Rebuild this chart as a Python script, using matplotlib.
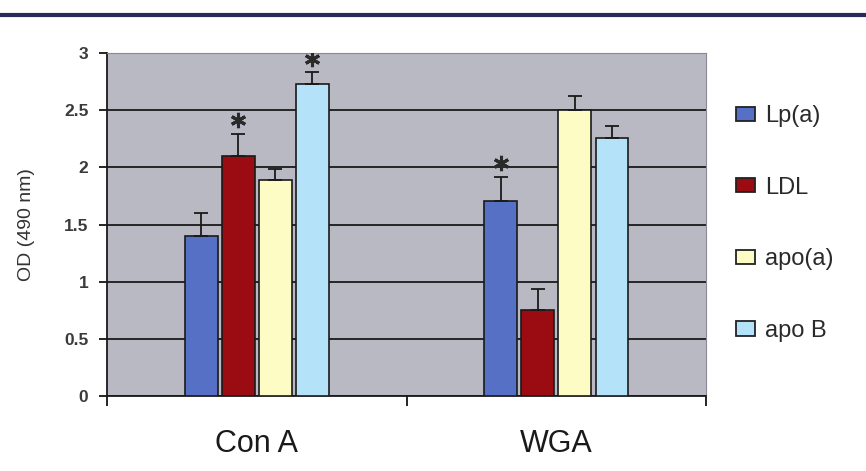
import matplotlib.pyplot as plt
import numpy as np
from matplotlib.lines import Line2D
from matplotlib.patches import Patch

plt.rcParams['font.family'] = ['Liberation Sans', 'DejaVu Sans']

# lectin binding, OD at 490 nm
groups = ['Con A', 'WGA']
series = ['Lp(a)', 'LDL', 'apo(a)', 'apo B']
values = {
    'Lp(a)': [1.40, 1.71],
    'LDL': [2.10, 0.75],
    'apo(a)': [1.89, 2.50],
    'apo B': [2.73, 2.26],
}
errors = {
    'Lp(a)': [0.20, 0.21],
    'LDL': [0.19, 0.19],
    'apo(a)': [0.10, 0.12],
    'apo B': [0.10, 0.10],
}
# significant differences marked with *
stars = [('LDL', 0), ('apo B', 0), ('Lp(a)', 1)]
yticks = [0, 0.5, 1, 1.5, 2, 2.5, 3]
ytick_labels = ['0', '0.5', '1', '1.5', '2', '2.5', '3']

colors = {
    'Lp(a)': '#5570c4',
    'LDL': '#9a0c12',
    'apo(a)': '#fdfcc4',
    'apo B': '#b4e2f8',
}

fig = plt.figure(figsize=(8.66, 4.71), dpi=100)
ax = fig.add_axes([0.1236, 0.1592, 0.6917, 0.7282])
ax.set_facecolor('#b9b9c4')

x = np.arange(len(groups))
step = 0.124
width = 0.11
for i, name in enumerate(series):
    pos = x + (i - 1.5) * step
    ax.bar(pos, values[name], width, color=colors[name],
           edgecolor='#1a1a1a', linewidth=1.2, zorder=3)
    ax.errorbar(pos, values[name], yerr=[np.zeros(len(groups)), errors[name]],
                fmt='none', ecolor='#1a1a1a', elinewidth=1.3, capsize=5,
                capthick=1.3, zorder=4)

for name, g in stars:
    i = series.index(name)
    top = values[name][g] + errors[name][g]
    ax.plot(x[g] + (i - 1.5) * step, top + 0.12, marker=(6, 2, 0),
            markersize=11, markeredgewidth=2.2, color='#2a2a2a', zorder=5)

ax.set_xlim(-0.5, 1.5)
ax.set_ylim(0, 3)
ax.yaxis.grid(True, color='#1a1a1a', linewidth=1.3, zorder=1)
ax.set_axisbelow(True)

ax.set_yticks(yticks)
ax.set_yticklabels(ytick_labels, fontsize=12.5, fontweight='bold',
                   color='#3a3a3a')
ax.tick_params(axis='y', length=6, width=1.2, direction='out', pad=7.5)

ax.set_xticks([-0.5, 0.5, 1.5])
ax.set_xticklabels([])
ax.tick_params(axis='x', length=7, width=1.2, direction='out')
for g, label in zip(x, groups):
    ax.text(g, -0.49, label, ha='center', va='baseline', fontsize=22,
            color='#1a1a1a')

ax.set_ylabel('OD (490 nm)', fontsize=14, color='#333333')
ax.yaxis.set_label_coords(-0.12, 0.5)

ax.spines['left'].set_color('#1a1a1a')
ax.spines['left'].set_linewidth(1.3)
ax.spines['bottom'].set_color('#1a1a1a')
ax.spines['bottom'].set_linewidth(1.3)
ax.spines['top'].set_color('#8a8a96')
ax.spines['right'].set_color('#8a8a96')

handles = [Patch(facecolor=colors[n], edgecolor='#222222', linewidth=1.3)
           for n in series]
fig.legend(handles, series, loc='upper left',
           bbox_to_anchor=(736 / 866, 1 - 105 / 471),
           frameon=False, fontsize=17, labelspacing=2.1,
           borderpad=0, borderaxespad=0,
           handlelength=0.8, handleheight=0.55, handletextpad=0.42,
           labelcolor='#2a2a2a')

# rule across the top of the page
fig.add_artist(Line2D([0, 1], [1 - 15 / 471, 1 - 15 / 471], color='#2a2a5a',
                      linewidth=3, transform=fig.transFigure))

fig.savefig('out.png', dpi=100)
